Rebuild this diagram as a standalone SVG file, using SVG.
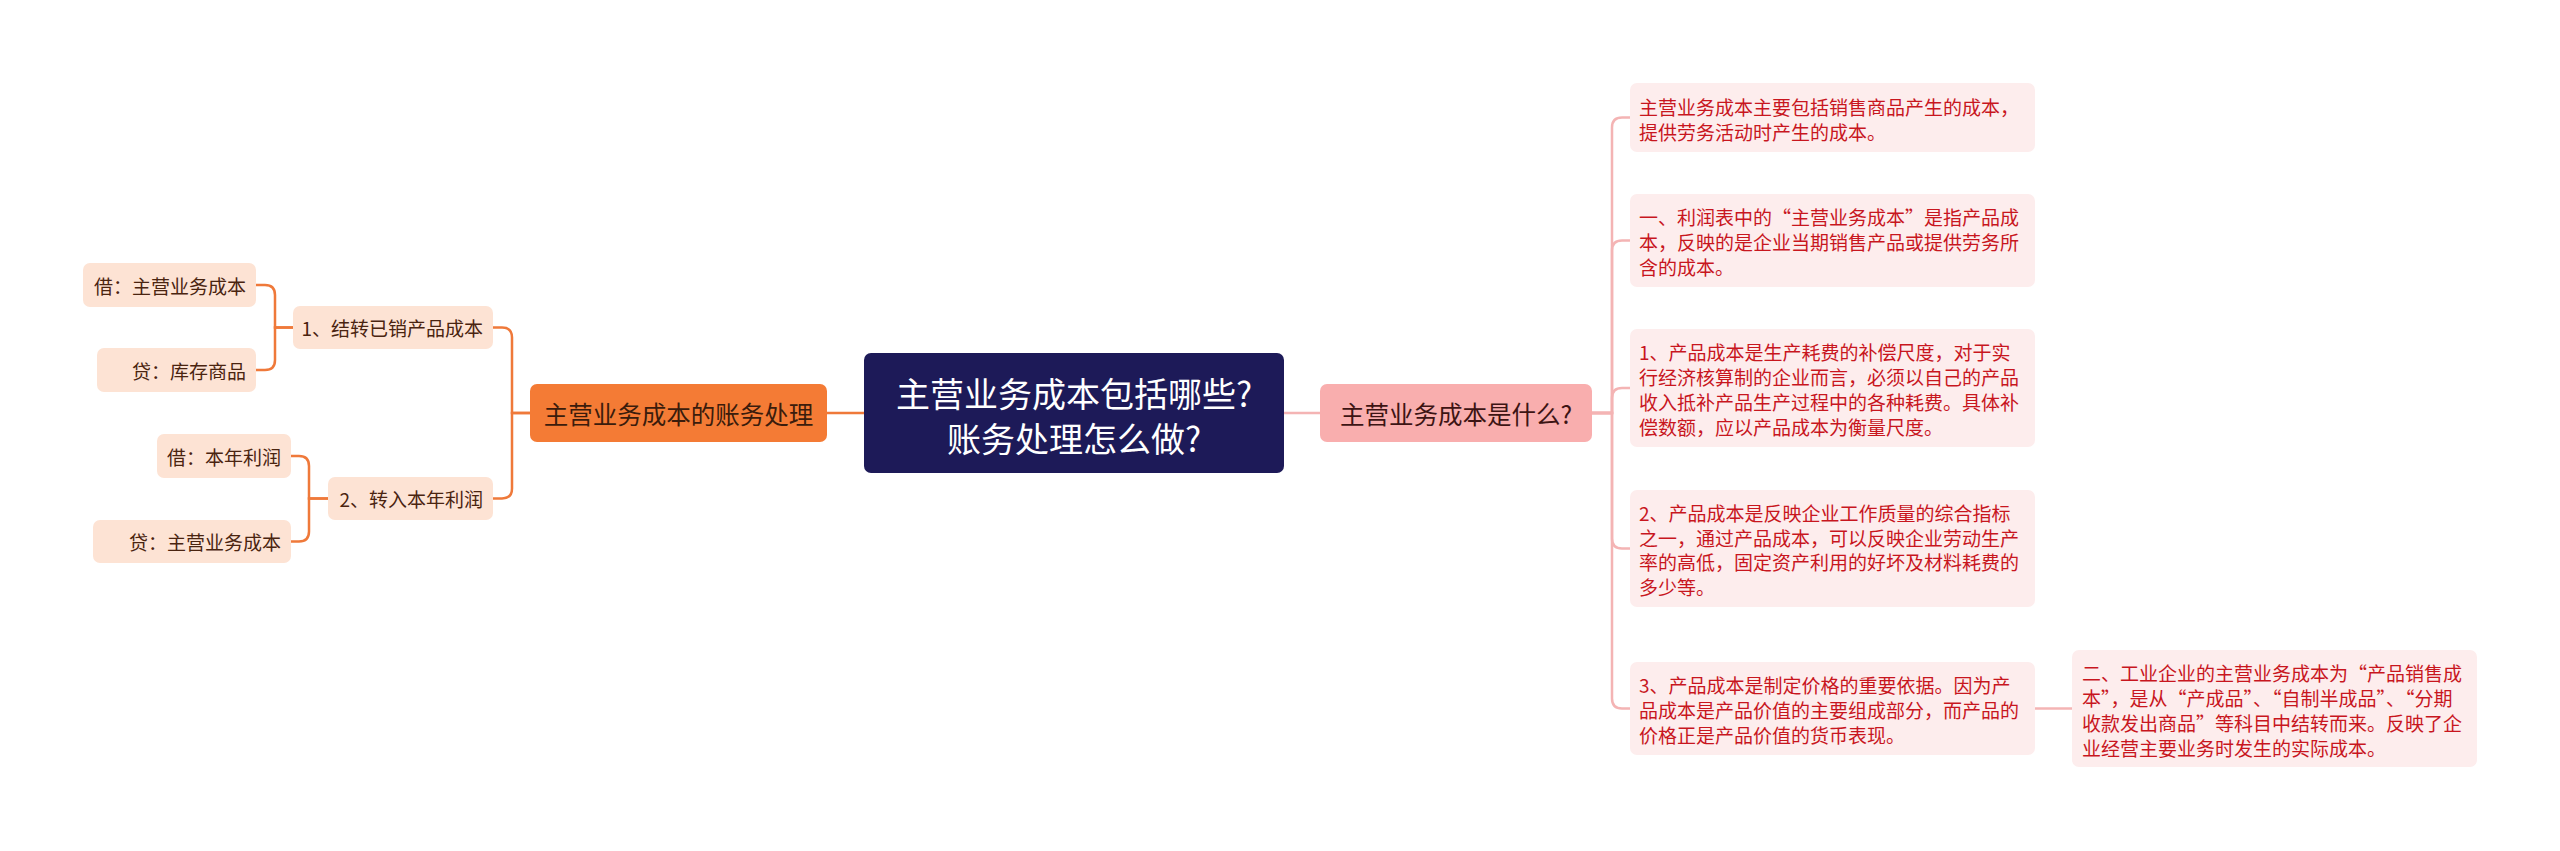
<svg xmlns="http://www.w3.org/2000/svg" width="2560" height="851" viewBox="0 0 2560 851">
<style>
text{font-family:"Noto Sans CJK SC","Noto Sans",sans-serif;dominant-baseline:central}
.root rect{fill:#1d1a58}
.root text{fill:#ffffff;font-size:34px;text-anchor:middle}
.main-l rect{fill:#f47b35}
.main-l text{fill:#3b1c0c;font-size:24.5px;text-anchor:middle}
.main-r rect{fill:#f9aeae}
.main-r text{fill:#3d1414;font-size:24.5px;text-anchor:middle}
.lnode rect{fill:#fde3d4}
.lnode text{fill:#4a2410;font-size:19px}
.rnode rect{fill:#fdeded}
.rnode text{fill:#c8161e;font-size:19px}
.cl{fill:none;stroke:#ef793a;stroke-width:2.5}
.cr{fill:none;stroke:#f4b4b4;stroke-width:2.5}
</style>
<rect width="2560" height="851" fill="#ffffff"/>
<g id="connectors">
<path class="cl" d="M827,413 H864"/>
<path class="cl" d="M530,413 H512 V337.5 Q512,327.5 502,327.5 H493"/>
<path class="cl" d="M530,413 H512 V488.5 Q512,498.5 502,498.5 H493"/>
<path class="cl" d="M293,327.5 H275 V295 Q275,285 265,285 H256"/>
<path class="cl" d="M293,327.5 H275 V360 Q275,370 265,370 H256"/>
<path class="cl" d="M328,498.5 H309 V466 Q309,456 299,456 H291"/>
<path class="cl" d="M328,498.5 H309 V531.5 Q309,541.5 299,541.5 H291"/>
<path class="cr" d="M1284,413 H1320"/>
<path class="cr" d="M1592,413 H1612 V127.5 Q1612,117.5 1622,117.5 H1630"/>
<path class="cr" d="M1592,413 H1612 V250.5 Q1612,240.5 1622,240.5 H1630"/>
<path class="cr" d="M1592,413 H1612 V398 Q1612,388 1622,388 H1630"/>
<path class="cr" d="M1592,413 H1612 V538.5 Q1612,548.5 1622,548.5 H1630"/>
<path class="cr" d="M1592,413 H1612 V698.5 Q1612,708.5 1622,708.5 H1630"/>
<path class="cr" d="M2035,708.5 H2072"/>
</g>
<g id="root" class="root">
<rect x="864" y="353" width="420" height="120" rx="7"/>
<text x="1074" y="392">主营业务成本包括哪些?</text>
<text x="1074" y="437">账务处理怎么做?</text>
</g>
<g id="n-accounting" class="main-l">
<rect x="530" y="384" width="297" height="58" rx="7"/>
<text x="678.5" y="413">主营业务成本的账务处理</text>
</g>
<g id="n-what" class="main-r">
<rect x="1320" y="384" width="272" height="58" rx="7"/>
<text x="1456" y="413">主营业务成本是什么?</text>
</g>
<g id="n-l1" class="lnode">
<rect x="293" y="306" width="200" height="43" rx="7"/>
<text x="483" y="327.5" text-anchor="end">1、结转已销产品成本</text>
</g>
<g id="n-l1a" class="lnode">
<rect x="83" y="263" width="173" height="44" rx="7"/>
<text x="246" y="285" text-anchor="end">借：主营业务成本</text>
</g>
<g id="n-l1b" class="lnode">
<rect x="97" y="348" width="159" height="44" rx="7"/>
<text x="246" y="370" text-anchor="end">贷：库存商品</text>
</g>
<g id="n-l2" class="lnode">
<rect x="328" y="477" width="165" height="43" rx="7"/>
<text x="483" y="498.5" text-anchor="end">2、转入本年利润</text>
</g>
<g id="n-l2a" class="lnode">
<rect x="157" y="434" width="134" height="44" rx="7"/>
<text x="281" y="456" text-anchor="end">借：本年利润</text>
</g>
<g id="n-l2b" class="lnode">
<rect x="93" y="520" width="198" height="43" rx="7"/>
<text x="281" y="541.5" text-anchor="end">贷：主营业务成本</text>
</g>
<g id="n-r1" class="rnode">
<rect x="1630" y="83" width="405" height="69" rx="7"/>
<text x="1639" y="106">主营业务成本主要包括销售商品产生的成本，</text>
<text x="1639" y="131">提供劳务活动时产生的成本。</text>
</g>
<g id="n-r2" class="rnode">
<rect x="1630" y="194" width="405" height="93" rx="7"/>
<text x="1639" y="216.5">一、利润表中的“主营业务成本”是指产品成</text>
<text x="1639" y="241.5">本，反映的是企业当期销售产品或提供劳务所</text>
<text x="1639" y="266.5">含的成本。</text>
</g>
<g id="n-r3" class="rnode">
<rect x="1630" y="329" width="405" height="118" rx="7"/>
<text x="1639" y="351.5">1、产品成本是生产耗费的补偿尺度，对于实</text>
<text x="1639" y="376.5">行经济核算制的企业而言，必须以自己的产品</text>
<text x="1639" y="401">收入抵补产品生产过程中的各种耗费。具体补</text>
<text x="1639" y="426">偿数额，应以产品成本为衡量尺度。</text>
</g>
<g id="n-r4" class="rnode">
<rect x="1630" y="490" width="405" height="117" rx="7"/>
<text x="1639" y="512">2、产品成本是反映企业工作质量的综合指标</text>
<text x="1639" y="537">之一，通过产品成本，可以反映企业劳动生产</text>
<text x="1639" y="561.5">率的高低，固定资产利用的好坏及材料耗费的</text>
<text x="1639" y="586.5">多少等。</text>
</g>
<g id="n-r5" class="rnode">
<rect x="1630" y="662" width="405" height="93" rx="7"/>
<text x="1639" y="684">3、产品成本是制定价格的重要依据。因为产</text>
<text x="1639" y="709">品成本是产品价值的主要组成部分，而产品的</text>
<text x="1639" y="734">价格正是产品价值的货币表现。</text>
</g>
<g id="n-r6" class="rnode">
<rect x="2072" y="650" width="405" height="117" rx="7"/>
<text x="2082" y="672">二、工业企业的主营业务成本为“产品销售成</text>
<text x="2082" y="697">本”，是从“产成品”、“自制半成品”、“分期</text>
<text x="2082" y="722">收款发出商品”等科目中结转而来。反映了企</text>
<text x="2082" y="747">业经营主要业务时发生的实际成本。</text>
</g>
</svg>
